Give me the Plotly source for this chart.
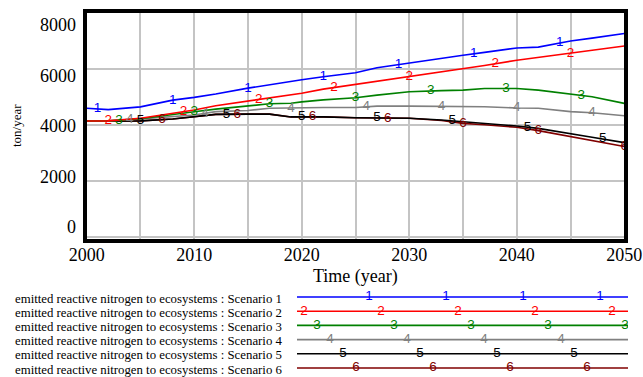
import numpy as np
import plotly.graph_objects as go

W, H = 643, 377

years = [2000, 2002, 2005, 2008, 2010, 2012, 2015, 2017, 2019, 2020, 2022,
         2025, 2027, 2030, 2033, 2035, 2037, 2040, 2042, 2045, 2047, 2050]

scenario1 = [4600, 4550, 4650, 4890, 4990, 5110, 5320, 5450, 5560, 5620, 5730,
             5870, 6050, 6225, 6390, 6500, 6600, 6760, 6790, 7010, 7110, 7275]
scenario2 = [4145, 4150, 4240, 4420, 4535, 4690, 4860, 4960, 5060, 5140, 5285,
             5450, 5560, 5725, 5900, 6025, 6130, 6320, 6420, 6560, 6670, 6830]
scenario3 = [4145, 4150, 4225, 4360, 4475, 4570, 4690, 4760, 4780, 4830, 4900,
             4975, 5070, 5190, 5230, 5250, 5310, 5310, 5250, 5100, 5010, 4775]
scenario4 = [4145, 4150, 4220, 4300, 4360, 4480, 4520, 4600, 4600, 4600, 4625,
             4630, 4675, 4675, 4675, 4675, 4655, 4610, 4600, 4480, 4440, 4330]
scenario5 = [4140, 4140, 4150, 4215, 4300, 4380, 4390, 4390, 4290, 4290, 4290,
             4260, 4250, 4240, 4180, 4120, 4050, 3965, 3880, 3700, 3560, 3370]
scenario6 = [4140, 4140, 4150, 4215, 4300, 4380, 4390, 4390, 4290, 4290, 4290,
             4260, 4250, 4240, 4160, 4060, 4010, 3920, 3800, 3590, 3440, 3230]

series = [scenario1, scenario2, scenario3, scenario4, scenario5, scenario6]
labels = ["emitted reactive nitrogen to ecosystems : Scenario %d" % i for i in range(1, 7)]
colors = ["#0000ff", "#ff0000", "#008000", "#808080", "#000000", "#800000"]

marker_years = [
    [2001, 2008, 2015, 2022, 2029, 2036, 2044],
    [2002, 2009, 2016, 2023, 2030, 2038, 2045],
    [2003, 2010, 2017, 2025, 2032, 2039, 2046],
    [2004, 2011, 2019, 2026, 2033, 2040, 2047],
    [2005, 2013, 2020, 2027, 2034, 2041, 2048],
    [2007, 2014, 2021, 2028, 2035, 2042, 2050],
]

y_ticks = [0, 2000, 4000, 6000, 8000]
x_ticks = [2000, 2010, 2020, 2030, 2040, 2050]

SERIF = "Liberation Serif, Times New Roman, serif"
SANS = "Liberation Sans, Arial, sans-serif"

# pixel geometry
px_l, px_r, px_t, px_b = 86.7, 624.3, 13.3, 238.7
leg_l, leg_r = 297.0, 628.0
row0, row_step = 297.0, 14.2

def py(p):
    return (H - p) / H

fig = go.Figure()

# main lines (drawn in reverse so scenario 1 is on top)
for i in reversed(range(6)):
    fig.add_trace(go.Scatter(x=years, y=series[i], mode="lines",
                             line=dict(color=colors[i], width=1.6),
                             hoverinfo="skip", showlegend=False))
for i in reversed(range(6)):
    mx = marker_years[i]
    my = np.interp(mx, years, series[i])
    fig.add_trace(go.Scatter(x=mx, y=my, mode="text", text=[str(i + 1)] * len(mx),
                             textfont=dict(family=SANS, size=13.5, color=colors[i]),
                             textposition="middle center",
                             hoverinfo="skip", showlegend=False))

# dummy trace for label axis
fig.add_trace(go.Scatter(x=[2000], y=[0], yaxis="y2", mode="markers",
                         marker=dict(opacity=0), hoverinfo="skip", showlegend=False))

# legend block
leg_len = leg_r - leg_l
step = 77.0
for i in range(6):
    r = i + 1
    fig.add_trace(go.Scatter(x=[0, leg_len], y=[r, r], xaxis="x2", yaxis="y3",
                             mode="lines", line=dict(color=colors[i], width=1.6),
                             hoverinfo="skip", showlegend=False))
    start = 7 + 13 * ((i - 1) % 6)
    pos = np.arange(start, leg_len + 1, step)
    fig.add_trace(go.Scatter(x=pos, y=[r] * len(pos), xaxis="x2", yaxis="y3",
                             mode="text", text=[str(r)] * len(pos),
                             textfont=dict(family=SANS, size=13.5, color=colors[i]),
                             hoverinfo="skip", showlegend=False))
    fig.add_annotation(x=12.7 / W, xref="paper", xanchor="left",
                       y=r, yref="y3", yanchor="middle", yshift=-1.5,
                       text=labels[i], showarrow=False,
                       font=dict(family=SERIF, size=12.8, color="black"))

grid_col = "#c4c4c4"
fig.update_layout(
    width=W, height=H,
    margin=dict(l=0, r=0, t=0, b=0),
    paper_bgcolor="white", plot_bgcolor="white",
    showlegend=False,
    xaxis=dict(domain=[px_l / W, px_r / W], range=[2000, 2050],
               tickvals=x_ticks, ticks="", ticklabelstandoff=-3,
               tickfont=dict(family=SERIF, size=18, color="black"),
               showgrid=True, gridcolor=grid_col, gridwidth=1.5,
               minor=dict(tick0=2000, dtick=5, showgrid=True, gridcolor=grid_col, gridwidth=1.5),
               showline=True, linecolor="black", linewidth=4, mirror=True,
               zeroline=False, fixedrange=True, automargin=False),
    yaxis=dict(domain=[py(px_b), py(px_t)], range=[-70, 8000],
               tickvals=y_ticks, showticklabels=False, ticks="",
               showgrid=True, gridcolor=grid_col, gridwidth=1.5,
               showline=True, linecolor="black", linewidth=4, mirror=True,
               zeroline=False, fixedrange=True, automargin=False),
    yaxis2=dict(overlaying="y", anchor="x", side="left", range=[-463, 8463],
                tickvals=y_ticks, ticks="outside", ticklen=6, tickcolor="rgba(0,0,0,0)",
                tickfont=dict(family=SERIF, size=18, color="black"),
                showgrid=False, zeroline=False, showline=False,
                fixedrange=True, automargin=False),
    xaxis2=dict(domain=[leg_l / W, leg_r / W], range=[0, leg_len], anchor="y3",
                visible=False, fixedrange=True),
    yaxis3=dict(domain=[py(row0 + row_step * 5 + row_step / 2), py(row0 - row_step / 2)],
                range=[6.5, 0.5], anchor="x2", visible=False, fixedrange=True),
)

fig.add_annotation(x=(px_l + px_r) / 2 / W, xref="paper", y=py(276), yref="paper",
                   xanchor="center", yanchor="middle", text="Time (year)", showarrow=False,
                   font=dict(family=SERIF, size=18, color="black"))
fig.add_annotation(x=16 / W, xref="paper", y=py(126), yref="paper",
                   xanchor="center", yanchor="middle", text="ton/year", textangle=-90,
                   showarrow=False, font=dict(family=SERIF, size=13, color="black"))

fig.write_html("out.html", config={"displayModeBar": False},
               post_script="document.body.style.margin='0px';"
                           "document.documentElement.style.overflow='hidden';"
                           "document.body.style.overflow='hidden';")
